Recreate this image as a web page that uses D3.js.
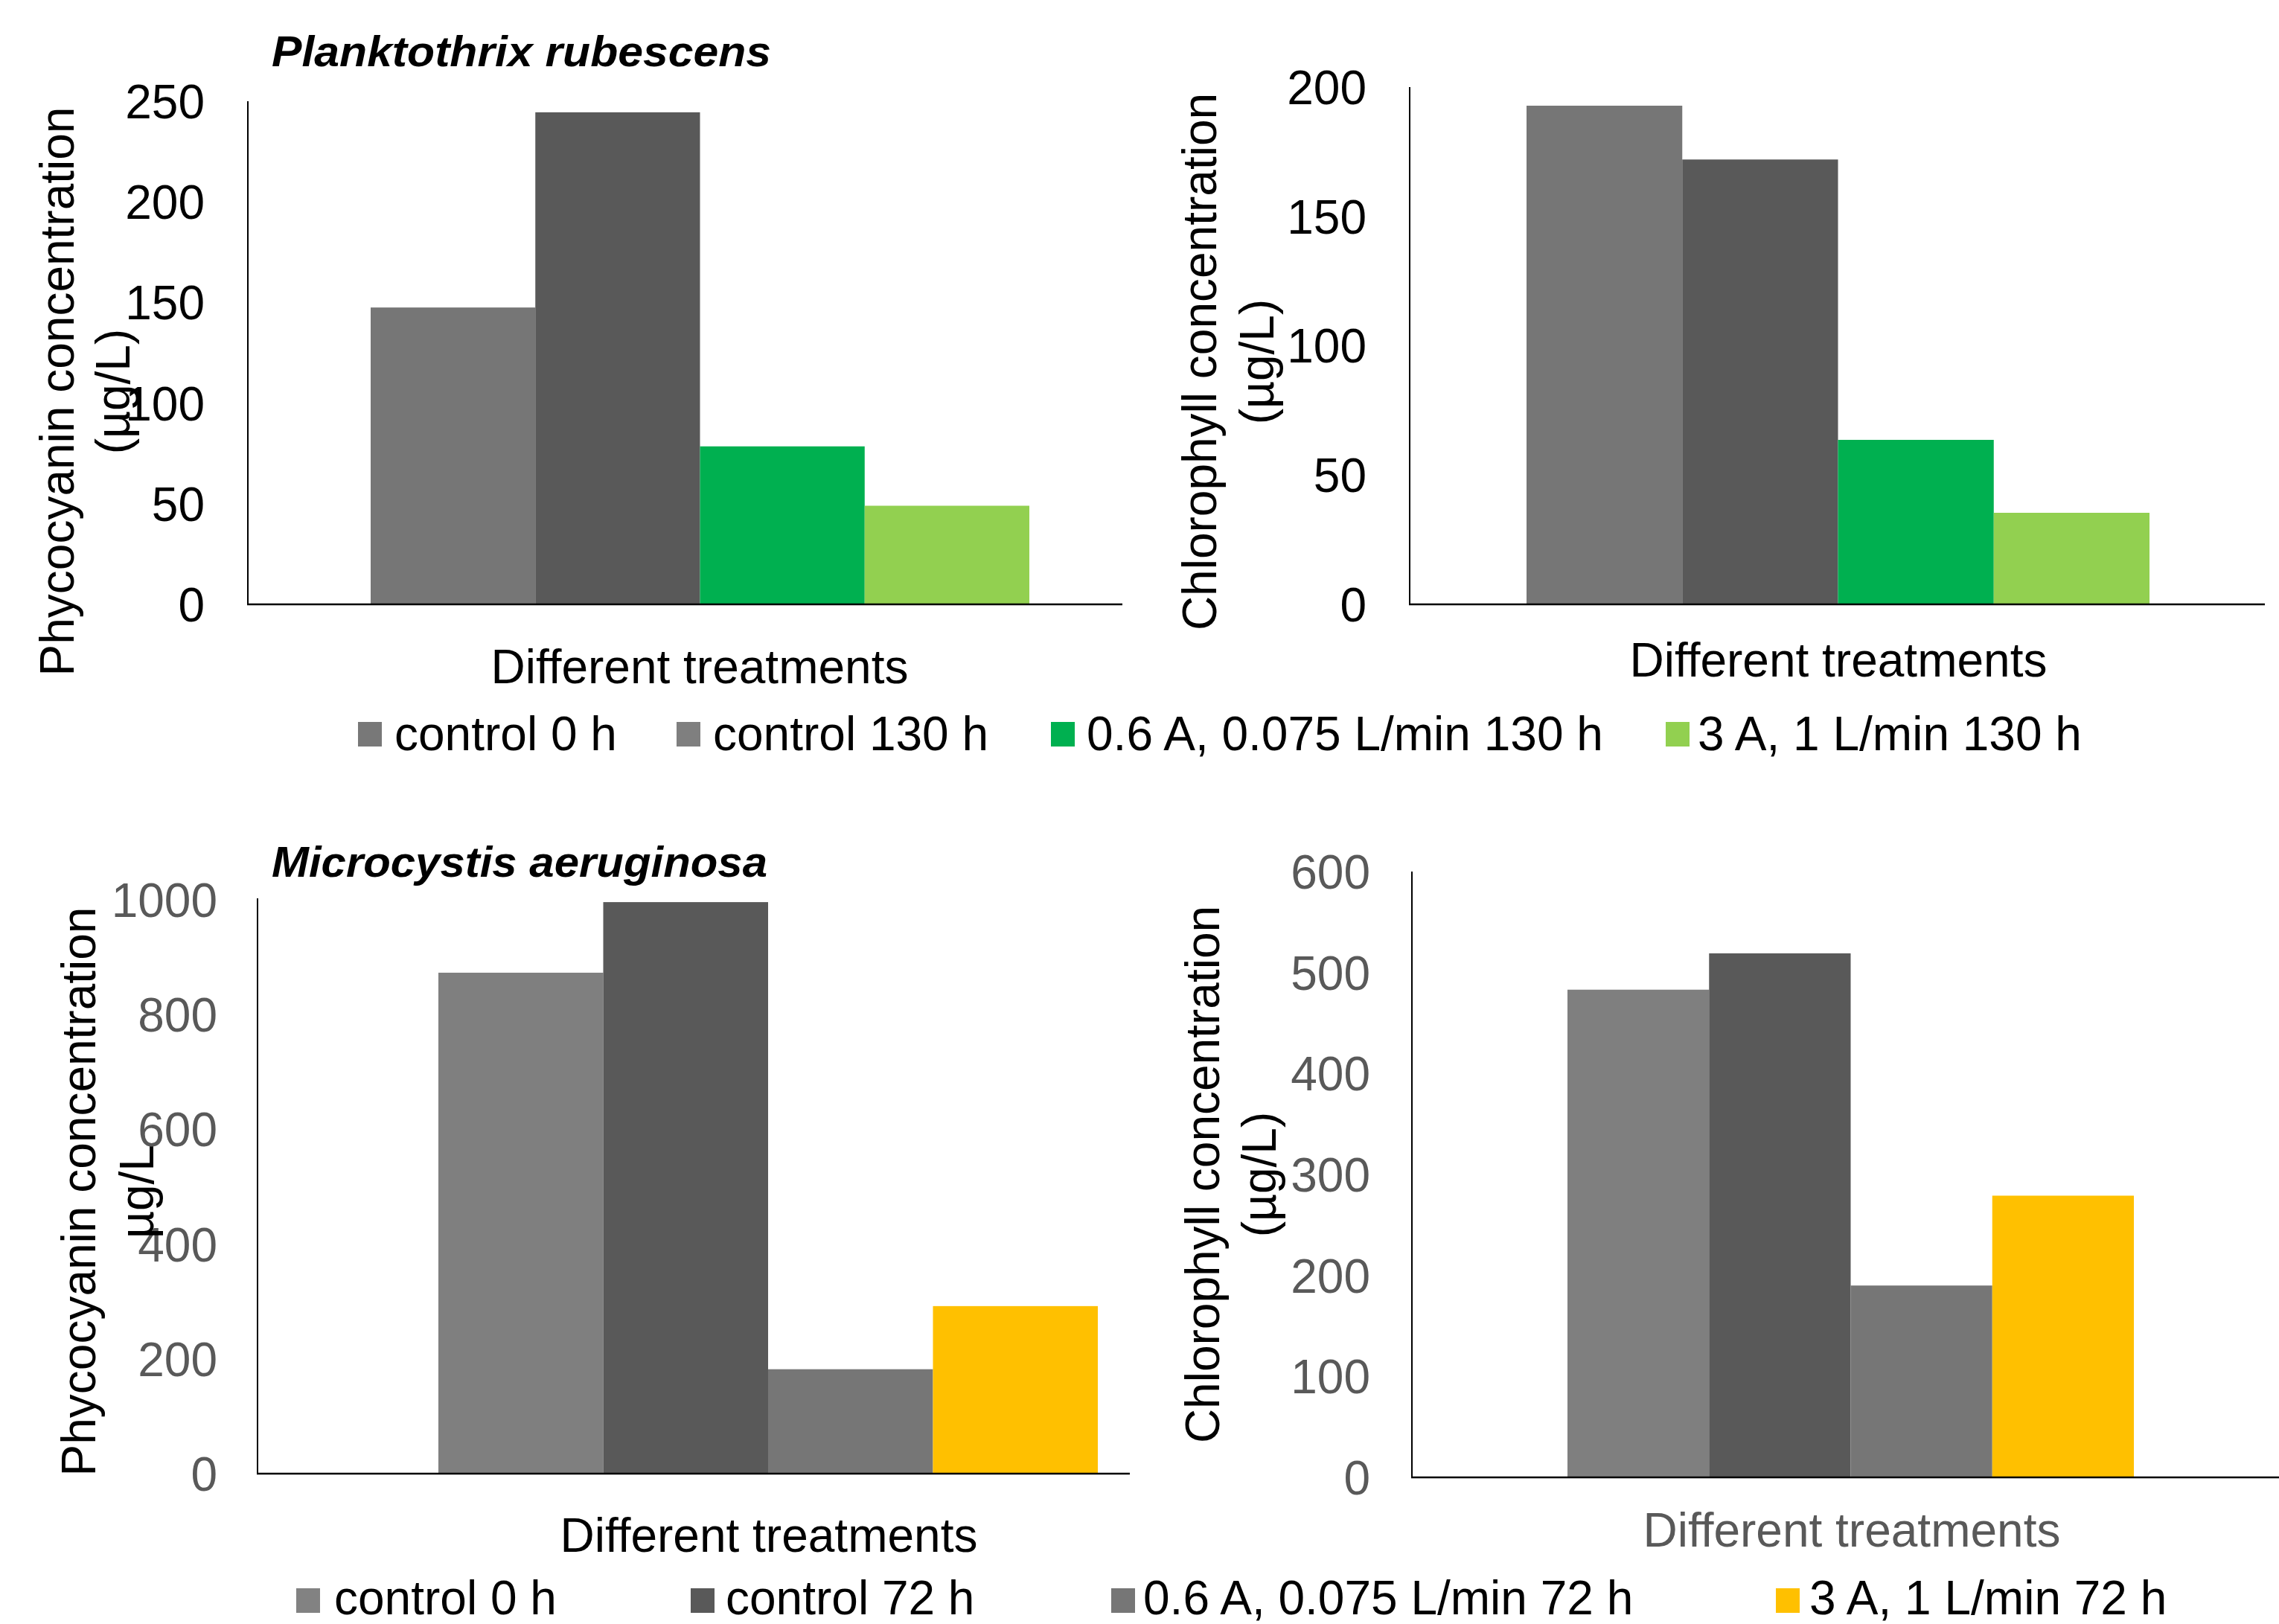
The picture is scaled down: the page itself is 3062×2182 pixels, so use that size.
<!DOCTYPE html>
<html>
<head>
<meta charset="utf-8">
<script src="https://cdn.jsdelivr.net/npm/d3@7"></script>
<style>
  html, body { margin: 0; padding: 0; background: #fff; }
  svg { display: block; }
  text { font-family: "Liberation Sans", Arial, sans-serif; }
</style>
</head>
<body>
<script>
// ---------- data ----------
const topSeries = ["control 0 h", "control 130 h", "0.6 A, 0.075 L/min 130 h", "3 A, 1 L/min 130 h"];
const bottomSeries = ["control 0 h", "control 72 h", "0.6 A, 0.075 L/min 72 h", "3 A, 1 L/min 72 h"];

const plankPhycocyanin = [147.5, 244.5, 78.5, 49];
const plankChlorophyll = [192.8, 172, 63.6, 35.4];
const microPhycocyanin = [873, 996, 182, 292];
const microChlorophyll = [483, 519, 190, 279];

const ticksPlankPhyco = [0, 50, 100, 150, 200, 250];
const ticksPlankChl = [0, 50, 100, 150, 200];
const ticksMicroPhyco = [0, 200, 400, 600, 800, 1000];
const ticksMicroChl = [0, 100, 200, 300, 400, 500, 600];

const topBarColors = ["#767676", "#595959", "#00B050", "#92D050"];
const topLegendColors = ["#787878", "#7F7F7F", "#00B050", "#92D050"];
const bottomBarColors = ["#7F7F7F", "#595959", "#767676", "#FFC000"];
const bottomLegendColors = ["#828282", "#595959", "#767676", "#FFC000"];

const W = 3062, H = 2182;
const svg = d3.select("body").append("svg").attr("width", W).attr("height", H);

const FS = 64;

const panels = [
  { values: plankPhycocyanin, series: topSeries, colors: topBarColors, ticks: ticksPlankPhyco, max: 250,
    ax0: 333, ax1: 1508, yTop: 136, yBot: 812, axisTop: 136, g0: 498, g1: 1383, pad: 58, tickColor: "#000",
    yt1: "Phycocyanin concentration", yt2: "(µg/L)", yb1: 99, yb2: 174, ytc: 526,
    xtx: 940, xty: 918, xtColor: "#000" },
  { values: plankChlorophyll, series: topSeries, colors: topBarColors, ticks: ticksPlankChl, max: 200,
    ax0: 1894, ax1: 3043, yTop: 117, yBot: 812, axisTop: 117, g0: 2051, g1: 2888, pad: 58, tickColor: "#000",
    yt1: "Chlorophyll concentration", yt2: "(µg/L)", yb1: 1634, yb2: 1711, ytc: 486,
    xtx: 2470, xty: 909, xtColor: "#000" },
  { values: microPhycocyanin, series: bottomSeries, colors: bottomBarColors, ticks: ticksMicroPhyco, max: 1000,
    ax0: 346, ax1: 1518, yTop: 1209, yBot: 1980, axisTop: 1207, g0: 589, g1: 1475, pad: 54, tickColor: "#595959",
    yt1: "Phycocyanin concentration", yt2: "µg/L", yb1: 128, yb2: 206, ytc: 1601,
    xtx: 1033, xty: 2085, xtColor: "#000" },
  { values: microChlorophyll, series: bottomSeries, colors: bottomBarColors, ticks: ticksMicroChl, max: 600,
    ax0: 1897, ax1: 3062, yTop: 1171, yBot: 1985, axisTop: 1171, g0: 2106, g1: 2867, pad: 56, tickColor: "#595959",
    yt1: "Chlorophyll concentration", yt2: "(µg/L)", yb1: 1638, yb2: 1714, ytc: 1578,
    xtx: 2488, xty: 2078, xtColor: "#595959" }
];

panels.forEach(p => {
  const g = svg.append("g");
  const y = d3.scaleLinear().domain([0, p.max]).range([p.yBot, p.yTop]);
  const x = d3.scaleBand().domain(p.series).range([p.g0, p.g1]).padding(0);

  // bars
  g.selectAll("rect.bar").data(p.values).join("rect")
    .attr("class", "bar")
    .attr("x", (d, i) => x(p.series[i]))
    .attr("width", x.bandwidth())
    .attr("y", d => y(d))
    .attr("height", d => y(0) - y(d))
    .attr("fill", (d, i) => p.colors[i]);

  // y axis tick labels
  const yAxis = d3.axisLeft(y).tickValues(p.ticks).tickSize(0).tickPadding(p.pad).tickFormat(d3.format("d"));
  const ag = g.append("g").attr("transform", `translate(${p.ax0},0)`).call(yAxis);
  ag.select(".domain").remove();
  ag.selectAll("text").attr("font-size", FS).attr("fill", p.tickColor)
    .attr("font-family", "Liberation Sans, Arial, sans-serif").attr("dy", "0.35em");

  // axis lines
  g.append("line").attr("x1", p.ax0).attr("x2", p.ax0).attr("y1", p.axisTop).attr("y2", p.yBot + 1)
    .attr("stroke", "#000").attr("stroke-width", 2);
  g.append("line").attr("x1", p.ax0 - 1).attr("x2", p.ax1).attr("y1", p.yBot).attr("y2", p.yBot)
    .attr("stroke", "#000").attr("stroke-width", 2.5);

  // y title (two lines)
  g.append("text").attr("transform", `translate(${p.yb1},${p.ytc}) rotate(-90)`)
    .attr("text-anchor", "middle").attr("font-size", FS).attr("fill", "#000").text(p.yt1);
  g.append("text").attr("transform", `translate(${p.yb2},${p.ytc}) rotate(-90)`)
    .attr("text-anchor", "middle").attr("font-size", FS).attr("fill", "#000").text(p.yt2);

  // x title
  g.append("text").attr("x", p.xtx).attr("y", p.xty).attr("text-anchor", "middle")
    .attr("font-size", FS).attr("fill", p.xtColor).text("Different treatments");
});

// species titles
const titles = [
  { text: "Planktothrix rubescens", x: 365, y: 89, len: 671 },
  { text: "Microcystis aeruginosa", x: 365, y: 1178, len: 666 }
];
titles.forEach(t => {
  svg.append("text").attr("x", t.x).attr("y", t.y)
    .attr("font-family", "Open Sans, Noto Sans, sans-serif")
    .attr("font-style", "italic").attr("font-weight", "bold")
    .attr("font-size", 57).attr("fill", "#000")
    .attr("textLength", t.len).attr("lengthAdjust", "spacingAndGlyphs")
    .text(t.text);
});

// legends
const legends = [
  { series: topSeries, colors: topLegendColors, sx: [481, 909, 1412, 2238], tx: [530, 958, 1460, 2281], sy: 970, ty: 1008 },
  { series: bottomSeries, colors: bottomLegendColors, sx: [398, 928, 1493, 2386], tx: [449, 975, 1536, 2431], sy: 2134, ty: 2169 }
];
legends.forEach(L => {
  const lg = svg.append("g");
  L.series.forEach((s, i) => {
    lg.append("rect").attr("x", L.sx[i]).attr("y", L.sy).attr("width", 32).attr("height", 33)
      .attr("fill", L.colors[i]);
    lg.append("text").attr("x", L.tx[i]).attr("y", L.ty).attr("font-size", FS).attr("fill", "#000").text(s);
  });
});
</script>
</body>
</html>
